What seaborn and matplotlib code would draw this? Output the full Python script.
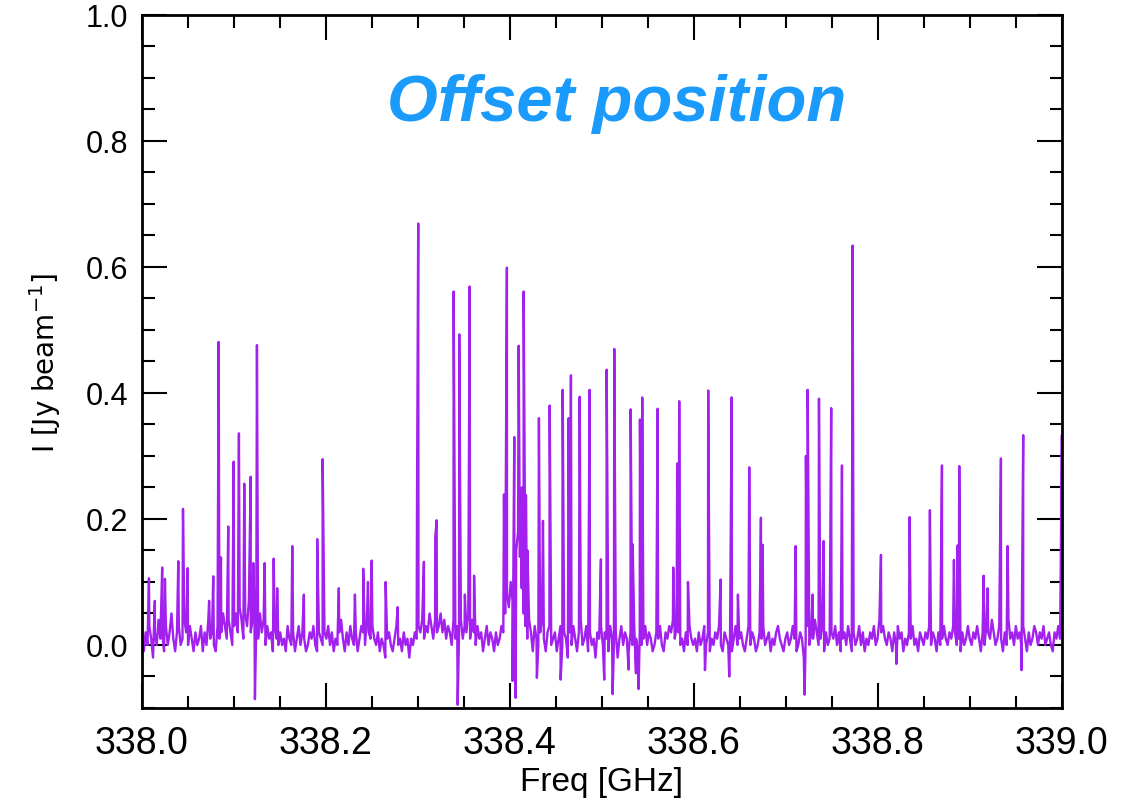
import numpy as np
import pandas as pd
import seaborn as sns
import matplotlib.pyplot as plt
from matplotlib.ticker import MultipleLocator

# baseline wiggle, in units of 0.01 Jy/beam, 338.0 -> 339.0 GHz
noise = [1, -1, 2, 0, 3, 1, -2, 2, 0, 4, 1, 2, -1, 3, 0, 2, 5, 1, -1, 2, 3, 0, 1, 4, 2,
         0, 3, 1, -1, 2, 0, 1, 3, -1, 2, 0, 4, 1, 2, 0, -1, 3, 1, 2, 5, 3, 1, 4, 2, 0,
         3, 5, 2, 6, 4, 1, 5, 3, 7, 2, 4, 6, 3, 1, 5, 2, 4, 0, 3, 1, 2, -1, 3, 1, 0,
         2, 0, 1, -1, 3, 1, 0, 2, -1, 1, 3, 0, 2, 1, -1, 0, 2, 1, 3, 0, -1, 2, 1, 0, 2,
         1, 3, 0, 2, -1, 1, 0, 2, 4, 1, -1, 2, 0, 3, 1, 0, 2, -1, 1, 3, 2, 0, 4, 2, 1,
         3, 1, 0, 2, -1, 1, 0, -2, 1, 2, 0, -1, 1, 3, 0, 1, -1, 2, 0, 1, -2, 1, 0, 2, 1,
         3, 2, 4, 1, 3, 2, 5, 3, 1, 4, 2, 3, 5, 2, 4, 1, 3, 2, 0, 4, 1, 3, 2, 4, 1,
         3, 2, 5, 1, 4, 2, 0, 3, 1, 2, -1, 1, 3, 0, 2, 1, -1, 2, 0, 1, 3, 2, 5, 8, 6,
         10, 7, 12, 15, 18, 14, 9, 5, 3, 1, 4, 2, -1, 3, 1, 0, 2, 4, 1, -1, 2, 3, 0, 1, 2,
         -1, 1, 3, 0, 2, 1, -2, 2, 0, 3, 1, -1, 2, 4, 0, 1, 3, -1, 2, 0, 1, -2, 2, 1, 3,
         0, 2, 1, -1, 3, 1, 0, 2, -2, 1, 3, 0, 2, 1, -1, 2, 0, 3, 1, -1, 2, 0, 1, 3, 0,
         2, 1, -1, 0, 2, 1, 3, 0, -1, 2, 1, 3, 2, 4, 1, 3, 2, 0, 1, -1, 2, 0, 3, 1, 0,
         1, -1, 2, 0, 1, 3, 0, 2, -1, 1, 0, 2, 1, 3, 0, -1, 2, 1, 0, 2, -1, 1, 3, 0, 1,
         2, 0, -1, 1, 3, 0, 2, 1, -1, 0, 2, 1, 3, 0, 1, 2, -1, 1, 0, 2, 3, 1, 0, -1, 1,
         2, 0, 1, 3, 1, -1, 0, 2, 1, -2, 1, 3, 0, 2, 1, 4, 2, 0, 1, 3, -1, 2, 0, 1, 2,
         1, 3, 0, 2, -1, 1, 2, 0, 3, 1, -1, 2, 0, 1, 3, 0, 2, -1, 1, 0, 2, 1, 3, 0, 1,
         4, 2, 3, 1, 0, 2, 1, -1, 2, 0, 3, 1, 2, -1, 1, 0, 2, 1, 3, 0, 1, -1, 2, 1, 0,
         2, 1, 3, 0, 2, 1, -1, 2, 0, 1, 3, 1, 0, 2, 1, 3, 2, 0, 1, -1, 2, 0, 1, 3, 1,
         0, 2, 1, 3, 1, -1, 2, 0, 3, 2, 1, 4, 2, 0, 1, 3, 1, -1, 2, 0, 4, 1, 2, 0, 3,
         1, 2, 0, 3, 1, -1, 2, 0, 1, 3, 2, 0, 2, 1, 3, 0, 1, 2, 0, -1, 2, 1, 3, 1, 2]

# line channels (GHz) and their intensities (Jy/beam)
line_freq = [338.0076, 338.0140, 338.0220, 338.0250, 338.0395, 338.0446, 338.0497,
             338.0730, 338.0775, 338.0834, 338.0859, 338.0938, 338.0997, 338.1054,
             338.1112, 338.1182, 338.1210, 338.1228, 338.1250, 338.1334, 338.1432,
             338.1470, 338.1634, 338.1760, 338.1905, 338.1964, 338.2140, 338.2315,
             338.2405, 338.2457, 338.2497, 338.2649, 338.2780, 338.2990, 338.3003,
             338.3065, 338.3188, 338.3203, 338.3388, 338.3432, 338.3449, 338.3510,
             338.3562, 338.3610, 338.3935, 338.3967, 338.4029, 338.4047, 338.4062,
             338.4095, 338.4114, 338.4130, 338.4149, 338.4163, 338.4174, 338.4190,
             338.4293, 338.4315, 338.4359, 338.4432, 338.4551, 338.4573, 338.4638,
             338.4663, 338.4758, 338.4866, 338.4989, 338.5025, 338.5051, 338.5116,
             338.5134, 338.5290, 338.5312, 338.5334, 338.5370, 338.5399, 338.5413,
             338.5438, 338.5605, 338.5775, 338.5818, 338.5830, 338.5840, 338.5935,
             338.6120, 338.6155, 338.6290, 338.6384, 338.6410, 338.6478, 338.6601,
             338.6728, 338.6747, 338.7105, 338.7203, 338.7217, 338.7236, 338.7290,
             338.7359, 338.7410, 338.7492, 338.7609, 338.7725, 338.8033, 338.8200,
             338.8345, 338.8565, 338.8696, 338.8826, 338.8866, 338.8884, 338.9149,
             338.9192, 338.9337, 338.9410, 338.9560, 338.9579, 339.0000]
line_peak = [0.106, 0.07, 0.123, 0.105, 0.133, 0.216, 0.122,
             0.07, 0.109, 0.481, 0.139, 0.188, 0.291, 0.336,
             0.256, 0.267, 0.13, -0.086, 0.476, 0.13, 0.137,
             0.09, 0.157, 0.08, 0.168, 0.295, 0.09, 0.08,
             0.121, 0.10, 0.134, 0.10, 0.06, 0.23, 0.669,
             0.132, 0.17, 0.198, 0.561, -0.095, 0.493, 0.08,
             0.569, 0.11, 0.239, 0.599, -0.057, 0.33, -0.084,
             0.475, 0.22, 0.25, 0.561, 0.20, 0.238, 0.15,
             -0.052, 0.36, 0.197, 0.38, -0.055, 0.405, 0.36,
             0.428, 0.394, 0.405, 0.136, -0.055, 0.437, -0.078,
             0.47, -0.039, 0.374, 0.16, -0.045, -0.07, 0.358,
             0.393, 0.375, 0.123, 0.288, 0.28, 0.387, 0.10,
             -0.04, 0.404, 0.104, -0.05, 0.393, 0.08, 0.282,
             0.202, 0.159, 0.157, -0.079, 0.30, 0.405, 0.08,
             0.391, 0.165, 0.376, 0.285, 0.634, 0.143, -0.03,
             0.203, 0.214, 0.285, 0.135, 0.158, 0.284, 0.11,
             0.09, 0.296, 0.157, -0.04, 0.333, 0.333]

xticks = [338.0, 338.2, 338.4, 338.6, 338.8, 339.0]
xtick_labels = ['338.0', '338.2', '338.4', '338.6', '338.8', '339.0']

base_freq = np.linspace(338.0, 339.0, len(noise))
df = pd.DataFrame({
    'freq': np.concatenate([base_freq, line_freq]),
    'flux': np.concatenate([np.array(noise) * 0.01, line_peak]),
}).sort_values('freq')

sns.set_theme(style='ticks')
plt.rcParams['font.family'] = ['Liberation Sans', 'DejaVu Sans']
plt.rcParams['text.color'] = 'black'
plt.rcParams['xtick.color'] = 'black'
plt.rcParams['ytick.color'] = 'black'
plt.rcParams['axes.labelcolor'] = 'black'

fig = plt.figure(figsize=(11.32, 8.04), dpi=100)
ax = fig.add_axes([0.1254, 0.1182, 0.8127, 0.8619])

sns.lineplot(data=df, x='freq', y='flux', sort=False, estimator=None,
             color='#A221EF', linewidth=1.7, ax=ax)

ax.set_xlim(338.0, 339.0)
ax.set_ylim(-0.1, 1.0)
ax.set_xticks(xticks, xtick_labels)
ax.xaxis.set_minor_locator(MultipleLocator(0.05))
ax.yaxis.set_major_locator(MultipleLocator(0.2))
ax.yaxis.set_minor_locator(MultipleLocator(0.05))
ax.tick_params(which='both', direction='in', top=True, right=True, width=1.5)
ax.tick_params(which='major', length=18)
ax.tick_params(which='minor', length=9)
ax.tick_params(axis='y', labelsize=22, pad=10)
ax.tick_params(axis='x', labelsize=27, pad=12)
for s in ax.spines.values():
    s.set_linewidth(2)
    s.set_color('black')

ax.set_xlabel('Freq [GHz]', fontsize=24, labelpad=4)
ax.set_ylabel(r'I [Jy beam$^{-1}$]', fontsize=20, family='DejaVu Sans', labelpad=16)

ax.text(0.516, 0.873, 'Offset position', transform=ax.transAxes,
        ha='center', va='center', fontsize=47, fontweight='bold', fontstyle='italic',
        color='#1A9BFC')

fig.savefig('out.png', dpi=100)
